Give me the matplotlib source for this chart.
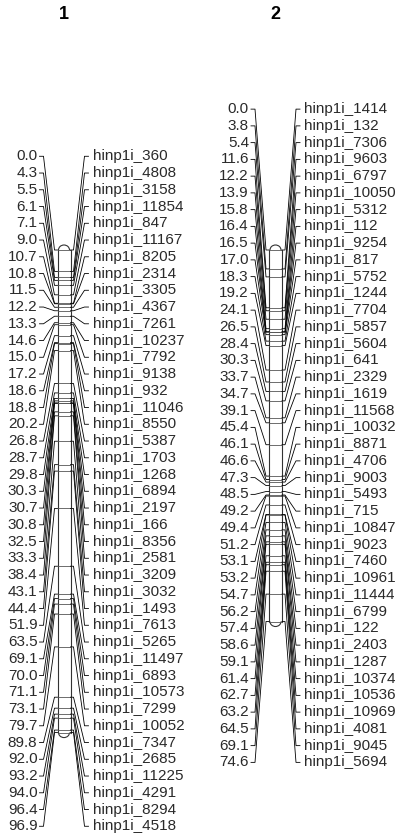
import numpy as np
import matplotlib.pyplot as plt
from matplotlib.patches import Arc

# linkage groups: marker positions (cM) and marker names
chr1_pos = [0.0, 4.3, 5.5, 6.1, 7.1, 9.0, 10.7, 10.8, 11.5, 12.2, 13.3, 14.6, 15.0,
            17.2, 18.6, 18.8, 20.2, 26.8, 28.7, 29.8, 30.3, 30.7, 30.8, 32.5, 33.3,
            38.4, 43.1, 44.4, 51.9, 63.5, 69.1, 70.0, 71.1, 73.1, 79.7, 89.8, 92.0,
            93.2, 94.0, 96.4, 96.9]
chr1_names = ['360', '4808', '3158', '11854', '847', '11167', '8205', '2314', '3305',
              '4367', '7261', '10237', '7792', '9138', '932', '11046', '8550', '5387',
              '1703', '1268', '6894', '2197', '166', '8356', '2581', '3209', '3032',
              '1493', '7613', '5265', '11497', '6893', '10573', '7299', '10052', '7347',
              '2685', '11225', '4291', '8294', '4518']

chr2_pos = [0.0, 3.8, 5.4, 11.6, 12.2, 13.9, 15.8, 16.4, 16.5, 17.0, 18.3, 19.2, 24.1,
            26.5, 28.4, 30.3, 33.7, 34.7, 39.1, 45.4, 46.1, 46.6, 47.3, 48.5, 49.2,
            49.4, 51.2, 53.1, 53.2, 54.7, 56.2, 57.4, 58.6, 59.1, 61.4, 62.7, 63.2,
            64.5, 69.1, 74.6]
chr2_names = ['1414', '132', '7306', '9603', '6797', '10050', '5312', '112', '9254',
              '817', '5752', '1244', '7704', '5857', '5604', '641', '2329', '1619',
              '11568', '10032', '8871', '4706', '9003', '5493', '715', '10847', '9023',
              '7460', '10961', '11444', '6799', '122', '2403', '1287', '10374', '10536',
              '10969', '4081', '9045', '5694']

W, H = 405, 835
PX_PER_CM = 4.98
TOP_PX = 250
LABEL_STEP = 16.75 / PX_PER_CM
FONT = 'Liberation Sans'

fig = plt.figure(figsize=(W / 100, H / 100), dpi=100)
ax = fig.add_axes([0, 0, 1, 1])
ax.set_xlim(0, W)
ax.set_ylim((H - TOP_PX) / PX_PER_CM, -TOP_PX / PX_PER_CM)
ax.axis('off')


def draw_chrom(title, pos, names, cx, bar_w=13):
    pos = np.asarray(pos)
    n = len(pos)
    mid = (pos[0] + pos[-1]) / 2
    lab_y = mid + (np.arange(n) - (n - 1) / 2) * LABEL_STEP
    left = cx - bar_w / 2
    right = cx + bar_w / 2
    lw = 0.6

    # bar body
    ax.plot([left, left], [pos[0], pos[-1]], color='#333333', lw=0.8)
    ax.plot([right, right], [pos[0], pos[-1]], color='#333333', lw=0.8)
    cap_h = 2 * 5 / PX_PER_CM
    ax.add_patch(Arc((cx, pos[0]), bar_w - 2, cap_h, theta1=180, theta2=360,
                     color='#333333', lw=0.8))
    ax.add_patch(Arc((cx, pos[-1]), bar_w - 2, cap_h, theta1=0, theta2=180,
                     color='#333333', lw=0.8))

    for p, ly, nm in zip(pos, lab_y, names):
        # stripe inside the bar
        ax.plot([left, right], [p, p], color='#555555', lw=lw)
        # left connector + distance label
        ax.plot([left - 18, left - 14, left - 3, left], [ly, ly, p, p],
                color='black', lw=lw)
        ax.text(left - 20, ly, '%.1f' % p, ha='right', va='center',
                fontsize=11, family=FONT, color='#2a2a2a')
        # right connector + marker name
        ax.plot([right, right + 3, right + 14, right + 18], [p, p, ly, ly],
                color='black', lw=lw)
        ax.text(right + 22, ly, 'hinp1i_' + nm, ha='left', va='center',
                fontsize=11, family=FONT, color='#2a2a2a')

    ax.text(cx, (14 - TOP_PX) / PX_PER_CM, title, ha='center', va='center',
            fontsize=13, fontweight='bold', family=FONT)


draw_chrom('1', chr1_pos, chr1_names, 64)
draw_chrom('2', chr2_pos, chr2_names, 275.5)

fig.savefig('out.png', dpi=100)
